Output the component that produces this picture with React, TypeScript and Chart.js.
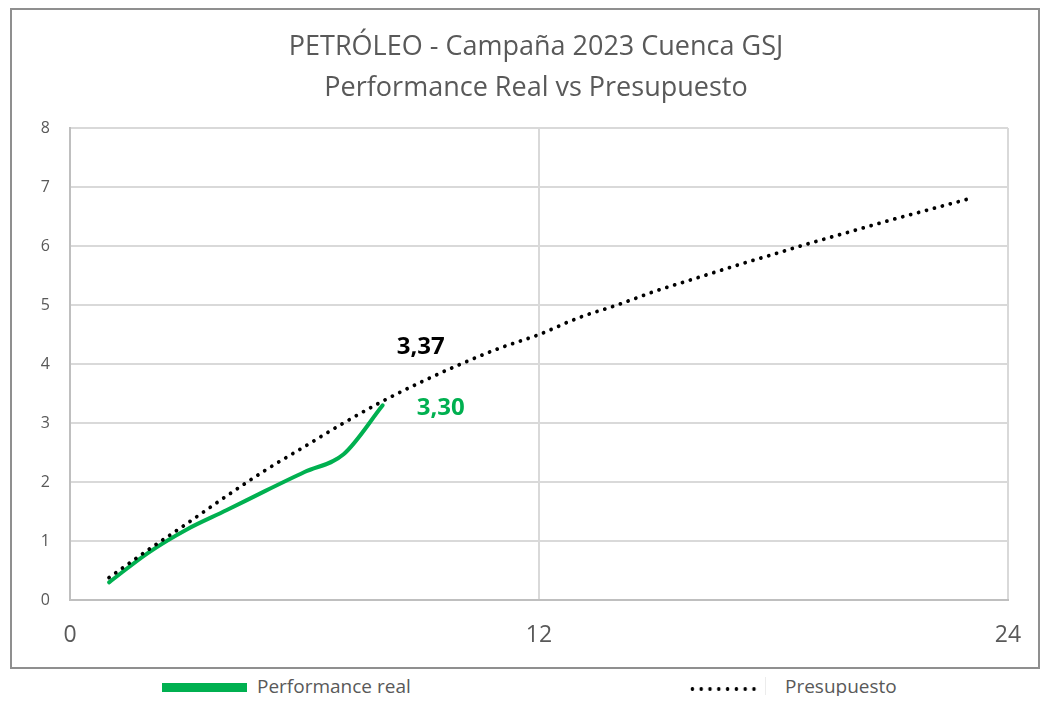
import React, { useEffect, useRef } from "react";
import { Chart, registerables } from "chart.js";

Chart.register(...registerables);

// ---- data ----
const titleLines = ["PETRÓLEO - Campaña 2023 Cuenca GSJ", "Performance Real vs Presupuesto"];
const seriesNames = ["Performance real", "Presupuesto"];
const realMonths = [1, 2, 3, 4, 5, 6, 7, 8];
const realValues = [0.3, 0.8, 1.2, 1.52, 1.85, 2.17, 2.47, 3.3];
const budgetMonths = [1, 2, 3, 4, 5, 6, 7, 8, 9, 10, 11, 12, 13, 14, 15, 16, 17, 18, 19, 20, 21, 22, 23];
const budgetValues = [0.38, 0.85, 1.3, 1.76, 2.2, 2.6, 3.0, 3.37, 3.7, 4.0, 4.27, 4.5, 4.78, 5.0, 5.24, 5.45, 5.66, 5.86, 6.06, 6.25, 6.44, 6.62, 6.8];
const xTickValues = [0, 12, 24];
const yTickValues = [0, 1, 2, 3, 4, 5, 6, 7, 8];
const labelledRealIndex = 7;
const labelledBudgetIndex = 7;

const GREEN = "#00B050";
const GREY_TEXT = "#595959";
const GRID = "#d9d9d9";
const FONT = "'Open Sans', Lato, sans-serif";

const fmt = (v: number) => v.toFixed(2).replace(".", ",");

const titlePlugin = {
  id: "twoLineTitle",
  afterDraw(chart: any) {
    const ctx = chart.ctx;
    ctx.save();
    ctx.font = `27px ${FONT}`;
    ctx.fillStyle = GREY_TEXT;
    ctx.textAlign = "center";
    ctx.textBaseline = "middle";
    const cx = chart.width / 2 + 11;
    ctx.fillText(titleLines[0], cx, 37);
    ctx.fillText(titleLines[1], cx, 78);
    ctx.restore();
  },
};

const valueLabels = {
  id: "valueLabels",
  afterDatasetsDraw(chart: any) {
    const ctx = chart.ctx;
    ctx.save();
    ctx.font = `bold 24px ${FONT}`;
    ctx.textAlign = "center";
    ctx.textBaseline = "middle";
    const bp = chart.getDatasetMeta(0).data[labelledBudgetIndex];
    ctx.fillStyle = "#000000";
    ctx.fillText(fmt(budgetValues[labelledBudgetIndex]), bp.x + 38, bp.y - 54);
    const rp = chart.getDatasetMeta(1).data[labelledRealIndex];
    ctx.fillStyle = GREEN;
    ctx.fillText(fmt(realValues[labelledRealIndex]), rp.x + 58, rp.y + 3);
    ctx.restore();
  },
};

export default function App() {
  const ref = useRef<HTMLCanvasElement | null>(null);

  useEffect(() => {
    if (!ref.current) return;
    Chart.defaults.font.family = FONT;
    const chart = new Chart(ref.current, {
      type: "line",
      data: {
        datasets: [
          {
            label: seriesNames[1],
            data: budgetMonths.map((m, i) => ({ x: m, y: budgetValues[i] })),
            borderColor: "#000000",
            borderWidth: 3.8,
            borderDash: [0.01, 8.2],
            borderCapStyle: "round",
            pointRadius: 0,
            fill: false,
            cubicInterpolationMode: "monotone",
          },
          {
            label: seriesNames[0],
            data: realMonths.map((m, i) => ({ x: m, y: realValues[i] })),
            borderColor: GREEN,
            borderWidth: 4,
            borderCapStyle: "round",
            pointRadius: 0,
            fill: false,
            cubicInterpolationMode: "monotone",
          },
        ],
      },
      options: {
        responsive: false,
        animation: false,
        devicePixelRatio: 1,
        layout: { padding: { left: 0, right: 30, top: 118, bottom: 0 } },
        plugins: {
          legend: { display: false },
          tooltip: { enabled: false },
          title: { display: false },
        },
        scales: {
          x: {
            type: "linear",
            min: 0,
            max: 24,
            afterBuildTicks: (scale: any) => {
              scale.ticks = xTickValues.map((v) => ({ value: v }));
            },
            afterFit: (scale: any) => {
              scale.height = 67;
              scale.paddingLeft = 0;
              scale.paddingRight = 0;
            },
            ticks: { color: GREY_TEXT, font: { size: 23 }, padding: 22 },
            grid: { color: GRID, lineWidth: 2, drawTicks: false },
            border: { color: "#bfbfbf", width: 2 },
          },
          y: {
            type: "linear",
            min: 0,
            max: 8,
            afterBuildTicks: (scale: any) => {
              scale.ticks = yTickValues.map((v) => ({ value: v }));
            },
            afterFit: (scale: any) => {
              scale.width = 58;
            },
            ticks: { color: GREY_TEXT, font: { size: 16 }, padding: 20 },
            grid: { color: GRID, lineWidth: 2, drawTicks: false },
            border: { color: "#bfbfbf", width: 2 },
          },
        },
      },
      plugins: [valueLabels, titlePlugin],
    } as any);
    return () => chart.destroy();
  }, []);

  return (
    <div style={{ position: "relative", width: 1034, height: 688, fontFamily: FONT }}>
      <div
        style={{
          position: "absolute",
          left: 2,
          top: 0,
          width: 1030,
          height: 661,
          border: "2px solid #8f8f8f",
          boxSizing: "border-box",
          background: "#fff",
        }}
      >
        <canvas ref={ref} width={1026} height={657} style={{ display: "block" }} />
      </div>
      <div style={{ position: "absolute", left: 154, top: 675, width: 85, height: 9, background: GREEN }} />
      <div style={{ position: "absolute", left: 249, top: 666, fontSize: 19, lineHeight: "24px", color: GREY_TEXT, whiteSpace: "nowrap" }}>
        {seriesNames[0]}
      </div>
      <div
        style={{
          position: "absolute",
          left: 680,
          top: 677,
          width: 70.4,
          height: 8,
          backgroundImage: "radial-gradient(circle, #000 1.6px, transparent 2.1px)",
          backgroundSize: "8.8px 8px",
        }}
      />
      <div style={{ position: "absolute", left: 757, top: 669, width: 1, height: 18, background: "#ececec" }} />
      <div style={{ position: "absolute", left: 777, top: 666, fontSize: 19, lineHeight: "24px", color: GREY_TEXT, whiteSpace: "nowrap" }}>
        {seriesNames[1]}
      </div>
    </div>
  );
}
